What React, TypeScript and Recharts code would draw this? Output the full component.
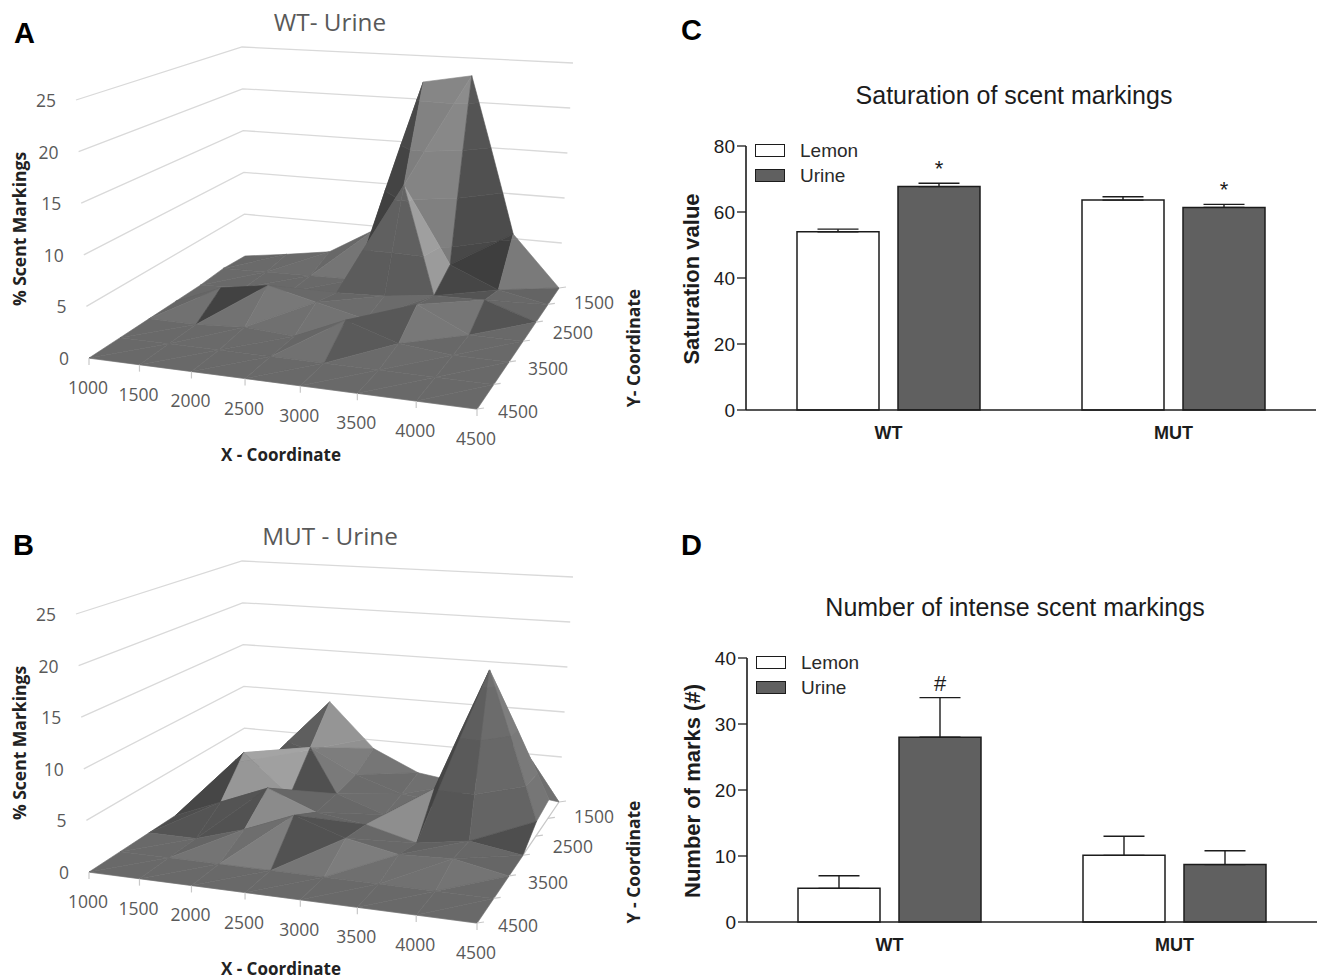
import React from 'react';
import {
  Bar, BarChart, ErrorBar, LabelList, Legend, Scatter, ScatterChart, XAxis, YAxis,
} from 'recharts';

// surface heights, one row per Y coordinate (1500 at the back to 4500 in front), one column per X coordinate
const xCoords = [1000, 1500, 2000, 2500, 3000, 3500, 4000, 4500];
const yCoords = [1500, 2000, 2500, 3000, 3500, 4000, 4500];
const zTicks = [0, 5, 10, 15, 20, 25];
const yTickLabels = [1500, 2500, 3500, 4500];

const wtUrine = [
  [0, 0.7, 1.5, 4.5, 22, 23, 5.5, 0],
  [0.2, 0.3, 0.4, 0.5, 11.5, 3.2, 1, 0],
  [0, 0.3, 0.4, 0.8, 1, 1.6, 1.7, 0],
  [0, 2, 2.8, 1.6, 0.4, 2.5, 0, 0],
  [0, 0, 0.3, 0, 2.2, 0.5, 0, 0],
  [0, 0, 0, 0, 0, 0, 0, 0],
  [0, 0, 0, 0, 0, 0, 0, 0],
];
const mutUrine = [
  [1.5, 3, 9, 4, 1.7, 1, 6, 0],
  [1, 3, 5.2, 2.6, 1, 0.5, 10.5, 2],
  [0, 5.7, 1.5, 2.2, 0.5, 3.8, 16.7, 1.5],
  [0, 2, 4, 2, 1.3, 0, 0.8, 0],
  [0, 0, 1.5, 3.5, 1.8, 0.8, 1, 0],
  [0, 0, 0, 0, 0, 0, 0, 0],
  [0, 0, 0, 0, 0, 0, 0, 0],
];

// cells split along the other diagonal, and face tones ("i,j,t": grey)
const wtFlip = ['4,1'];
const wtTones: Record<string, number> = {
  '4,0,0': 118, '4,0,1': 124, '5,0,0': 72, '5,0,1': 62, '3,0,0': 62, '3,0,1': 60,
  '4,1,0': 155, '4,1,1': 92, '3,1,0': 100, '3,1,1': 92, '5,1,0': 70, '5,1,1': 84,
  '6,0,0': 122, '6,0,1': 100,
  '1,3,0': 66, '6,2,0': 84, '4,4,0': 90, '4,3,1': 88,
};
const mutFlip = ['2,1'];
const mutTones: Record<string, number> = {
  '5,2,0': 66, '5,2,1': 86, '6,2,0': 100, '6,2,1': 78, '6,1,0': 140, '6,1,1': 118,
  '1,1,0': 155, '1,1,1': 160, '2,1,0': 122, '2,1,1': 80,
  '1,0,0': 80, '1,0,1': 90, '2,0,0': 145, '2,0,1': 125, '3,0,0': 118, '3,0,1': 108,
  '0,2,0': 78, '0,2,1': 70, '0,3,0': 78, '0,3,1': 84, '1,3,0': 84, '1,3,1': 82,
  '3,3,1': 82, '3,4,0': 82,
};

const groups = ['WT', 'MUT'];
const saturationLemon = [54, 63.6];
const saturationUrine = [67.7, 61.4];
const saturationLemonErr = [0.8, 1];
const saturationUrineErr = [1, 0.9];
const saturationMarks = ['*', '*'];
const intenseLemon = [5.1, 10.1];
const intenseUrine = [28, 8.7];
const intenseLemonErr = [1.9, 2.9];
const intenseUrineErr = [6, 2.1];
const intenseMarks = ['#', ''];

const GREY_TEXT = '#595959';
const CALIBRI = '"Open Sans", sans-serif';
const ARIAL = '"Liberation Sans", Arial, sans-serif';
const BAR_DARK = '#606060';
const INK = '#1c1c1c';

// corners of the box in panel pixels: left, back, right, near
const floorBox = [[89, 358], [245, 256], [559, 288], [477, 409]];
const topBox = [[76, 100], [242, 47], [573, 63], [480, 119]];
const depth = [0.0962, 0.1198, 0.1099, 0.0863];

function project(i: number, j: number, z: number) {
  const u = i / 7;
  const v = j / 6;
  const b = [(1 - u) * v, (1 - u) * (1 - v), u * (1 - v), u * v].map((k, n) => k * depth[n]);
  const sum = b[0] + b[1] + b[2] + b[3];
  const at = (box: number[][], axis: number) => b.reduce((s, k, n) => s + k * box[n][axis], 0) / sum;
  const t = z / 25;
  return {
    px: at(floorBox, 0) + (at(topBox, 0) - at(floorBox, 0)) * t,
    py: at(floorBox, 1) + (at(topBox, 1) - at(floorBox, 1)) * t,
  };
}

type V = [number, number, number];

function clip(poly: V[], level: number, keepAbove: boolean) {
  const out: V[] = [];
  poly.forEach((a, n) => {
    const b = poly[(n + 1) % poly.length];
    const aIn = keepAbove ? a[2] >= level : a[2] <= level;
    const bIn = keepAbove ? b[2] >= level : b[2] <= level;
    if (aIn) out.push(a);
    if (aIn !== bIn) {
      const t = (level - a[2]) / (b[2] - a[2]);
      out.push([a[0] + (b[0] - a[0]) * t, a[1] + (b[1] - a[1]) * t, level]);
    }
  });
  return out;
}

const bandTint = [0, 4, 8, 12, 16];

function triangleShade(tri: V[]) {
  const [a, b, c] = tri;
  const d1 = [b[0] - a[0], b[1] - a[1], (b[2] - a[2]) * 0.15];
  const d2 = [c[0] - a[0], c[1] - a[1], (c[2] - a[2]) * 0.15];
  const nx = d1[1] * d2[2] - d1[2] * d2[1];
  const ny = d1[2] * d2[0] - d1[0] * d2[2];
  const nz = d1[0] * d2[1] - d1[1] * d2[0];
  const len = Math.hypot(nx, ny, nz) * (nz < 0 ? -1 : 1);
  const ux = nx / len;
  const uy = ny / len;
  const uz = nz / len;
  const steep = (1 - uz) * (1 - uz);
  const backRight = Math.max(0, ux) * Math.max(0, -uy);
  const frontRight = Math.max(0, ux) * Math.max(0, uy) * uz;
  return 60 * uy - 240 * steep - 20 * Math.abs(ux) + 500 * backRight + 330 * frontRight;
}

function buildFacets(grid: number[][], flips: string[], tones: Record<string, number>, contrast: number) {
  const facets: { fill: string; count: number }[] = [];
  const verts: { px: number; py: number }[] = [];
  const addTri = (tri: V[], key: string) => {
    const shade = tones[key] ?? Math.max(66, 105 + contrast * triangleShade(tri));
    zTicks.slice(0, 5).forEach((lo, n) => {
      let poly = clip(tri, lo, true);
      if (poly.length) poly = clip(poly, lo + 5, false);
      if (poly.length < 3) return;
      const g = Math.round(Math.min(175, shade + bandTint[n]));
      facets.push({ fill: `rgb(${g},${g},${g})`, count: poly.length });
      poly.forEach((p) => verts.push(project(p[0], p[1], p[2])));
    });
  };
  for (let sum = 0; sum <= 11; sum++) {
    for (let j = 0; j < 6; j++) {
      const i = sum - j;
      if (i < 0 || i > 6) continue;
      const p00: V = [i, j, grid[j][i]];
      const p10: V = [i + 1, j, grid[j][i + 1]];
      const p01: V = [i, j + 1, grid[j + 1][i]];
      const p11: V = [i + 1, j + 1, grid[j + 1][i + 1]];
      if (flips.includes(`${i},${j}`)) {
        addTri([p00, p10, p11], `${i},${j},0`);
        addTri([p00, p11, p01], `${i},${j},1`);
      } else {
        addTri([p00, p10, p01], `${i},${j},0`);
        addTri([p10, p11, p01], `${i},${j},1`);
      }
    }
  }
  return { facets, verts };
}

const noDot = () => <g />;

function SurfacePanel({ grid, flips, tones, contrast, top, title, yTitle }: { grid: number[][]; flips: string[]; tones: Record<string, number>; contrast: number; top: number; title: string; yTitle: string }) {
  const { facets, verts } = buildFacets(grid, flips, tones, contrast);
  const drawFacets = (props: any) => {
    let at = 0;
    return (
      <g>
        {facets.map((f, n) => {
          const pts = props.points.slice(at, at + f.count);
          at += f.count;
          return (
            <polygon
              key={n}
              points={pts.map((p: any) => `${p.x},${p.y}`).join(' ')}
              fill={f.fill}
              stroke={f.fill}
              strokeWidth={0.6}
            />
          );
        })}
      </g>
    );
  };
  const zLabels = zTicks.map((z) => ({ ...project(0, 6, z), label: z }));
  const xLabels = xCoords.map((x, i) => ({ ...project(i, 6, 0), label: x }));
  const yLabels = yTickLabels.map((y, n) => ({ ...project(7, yCoords.indexOf(y), 0), label: y, n }));
  const yMarks = yCoords.map((y, j) => project(7, j, 0));
  const text = { fontFamily: CALIBRI, fontSize: 17.5, fill: GREY_TEXT };
  const sideLabel = { position: 'absolute', width: 0, height: 0, whiteSpace: 'nowrap', fontFamily: CALIBRI, fontWeight: 700, fontSize: 17.5, color: '#222' } as const;
  return (
    <div style={{ position: 'absolute', left: 0, top, width: 650, height: 465 }}>
      <ScatterChart width={650} height={465} margin={{ top: 0, right: 0, bottom: 0, left: 0 }}>
        <XAxis type="number" dataKey="px" domain={[0, 650]} hide />
        <YAxis type="number" dataKey="py" domain={[0, 465]} reversed hide />
        {zTicks.slice(1).map((z) => (
          <Scatter
            key={z}
            data={[project(0, 6, z), project(0, 0, z), project(7, 0, z)]}
            line={{ stroke: '#d9d9d9', strokeWidth: 1.3 }}
            shape={noDot}
            isAnimationActive={false}
          />
        ))}
        <Scatter
          data={[project(0, 6, 0), project(7, 6, 0), project(7, 0, 0)]}
          line={{ stroke: '#c8c8c8', strokeWidth: 1.3 }}
          shape={noDot}
          isAnimationActive={false}
        />
        <Scatter data={verts} line={drawFacets} shape={noDot} isAnimationActive={false} />
        <Scatter
          data={zLabels}
          isAnimationActive={false}
          shape={(p: any) => (
            <text x={p.cx - 20} y={p.cy + 7} textAnchor="end" {...text}>{p.payload.label}</text>
          )}
        />
        <Scatter
          data={xLabels}
          isAnimationActive={false}
          shape={(p: any) => (
            <g>
              <line x1={p.cx} y1={p.cy} x2={p.cx} y2={p.cy + 7} stroke="#c8c8c8" strokeWidth={1.2} />
              <text x={p.cx - 1} y={p.cy + 36} textAnchor="middle" {...text}>{p.payload.label}</text>
            </g>
          )}
        />
        <Scatter
          data={yMarks}
          isAnimationActive={false}
          shape={(p: any) => <line x1={p.cx} y1={p.cy} x2={p.cx + 7} y2={p.cy - 1} stroke="#c8c8c8" strokeWidth={1.2} />}
        />
        <Scatter
          data={yLabels}
          isAnimationActive={false}
          shape={(p: any) => (
            <text x={p.cx + 35 + p.payload.n * 2} y={p.cy + 21 - p.payload.n * 4} textAnchor="middle" {...text}>
              {p.payload.label}
            </text>
          )}
        />
      </ScatterChart>
      <div style={{ position: 'absolute', left: 130, width: 400, top: 4, textAlign: 'center', fontFamily: CALIBRI, fontSize: 24.3, lineHeight: '36px', color: GREY_TEXT }}>{title}</div>
      <div style={{ position: 'absolute', left: 131, width: 300, top: 443, textAlign: 'center', fontFamily: CALIBRI, fontWeight: 700, fontSize: 17, lineHeight: '24px', color: '#222' }}>X - Coordinate</div>
      <div style={{ ...sideLabel, left: 19, top: 229 }}>
        <span style={{ position: 'absolute', transform: 'translate(-50%,-50%) rotate(-90deg)' }}>% Scent Markings</span>
      </div>
      <div style={{ ...sideLabel, left: 633, top: 348 }}>
        <span style={{ position: 'absolute', transform: 'translate(-50%,-50%) rotate(-90deg)' }}>{yTitle}</span>
      </div>
    </div>
  );
}

function BarPanel({ top, left, title, yLabel, ymax, ticks, lemon, urine, lemonErr, urineErr, marks }: any) {
  const data = groups.map((group, n) => ({
    group,
    lemon: lemon[n],
    urine: urine[n],
    lemonBar: [0, lemonErr[n]],
    urineBar: [0, urineErr[n]],
    err: urineErr[n],
    mark: marks[n],
  }));
  const drawMark = (p: any) => {
    const row = data[p.index];
    if (!row.mark) return null;
    const lift = (row.err / row.urine) * p.height;
    return (
      <text x={p.x + p.width / 2} y={p.y - lift - 7} textAnchor="middle" fontFamily={ARIAL} fontSize={22} fill={INK}>
        {row.mark}
      </text>
    );
  };
  const legend = () => (
    <div style={{ fontFamily: ARIAL, fontSize: 19, color: '#2a2a2a' }}>
      {[['Lemon', '#fff'], ['Urine', BAR_DARK]].map(([name, fill]) => (
        <div key={name} style={{ display: 'flex', alignItems: 'center', height: 25 }}>
          <span style={{ boxSizing: 'border-box', display: 'inline-block', width: 30, height: 13, background: fill, border: `1.5px solid ${INK}`, marginRight: 15 }} />
          {name}
        </div>
      ))}
    </div>
  );
  return (
    <div style={{ position: 'absolute', left, top, width: 648, height: 330 }}>
      <BarChart width={648} height={330} data={data} barSize={82} barGap={19} margin={{ top: 16, right: 2, bottom: 0, left: 0 }}>
        <XAxis
          dataKey="group"
          height={50}
          tickLine={false}
          axisLine={{ stroke: INK, strokeWidth: 1.6 }}
          tick={{ fontFamily: ARIAL, fontWeight: 700, fontSize: 18, fill: INK }}
          tickMargin={10}
        />
        <YAxis
          type="number"
          domain={[0, ymax]}
          ticks={ticks}
          width={76}
          tickSize={9}
          tickLine={{ stroke: INK, strokeWidth: 1.3 }}
          axisLine={{ stroke: INK, strokeWidth: 1.6 }}
          tick={{ fontFamily: ARIAL, fontSize: 19, fill: INK }}
          tickMargin={2}
        />
        <Legend layout="vertical" align="center" verticalAlign="middle" content={legend} wrapperStyle={{ left: 85, top: 8, width: 140 }} />
        <Bar dataKey="lemon" fill="#fff" stroke={INK} strokeWidth={1.5} isAnimationActive={false}>
          <ErrorBar dataKey="lemonBar" direction="y" width={20.5} stroke={INK} strokeWidth={1.4} isAnimationActive={false} />
        </Bar>
        <Bar dataKey="urine" fill={BAR_DARK} stroke={INK} strokeWidth={1.5} isAnimationActive={false}>
          <ErrorBar dataKey="urineBar" direction="y" width={20.5} stroke={INK} strokeWidth={1.4} isAnimationActive={false} />
          <LabelList dataKey="urine" content={drawMark} />
        </Bar>
      </BarChart>
      <div style={{ position: 'absolute', left: 22, top: 149, width: 0, height: 0, whiteSpace: 'nowrap', fontFamily: ARIAL, fontWeight: 700, fontSize: 22, color: INK }}>
        <span style={{ position: 'absolute', transform: 'translate(-50%,-50%) rotate(-90deg)' }}>{yLabel}</span>
      </div>
      <div style={{ position: 'absolute', left: 144, width: 400, top: -50, textAlign: 'center', fontFamily: ARIAL, fontSize: 25, lineHeight: '30px', color: INK, whiteSpace: 'nowrap' }}>{title}</div>
    </div>
  );
}

const panelLetters = [['A', 14, 15], ['B', 13, 527], ['C', 681, 12], ['D', 681, 527]];

export default function App() {
  return (
    <div style={{ position: 'absolute', left: 0, top: 0, width: 1318, height: 979, background: '#fff', overflow: 'hidden' }}>
      <SurfacePanel grid={wtUrine} flips={wtFlip} tones={wtTones} contrast={0.45} top={0} title="WT- Urine" yTitle="Y- Coordinate" />
      <SurfacePanel grid={mutUrine} flips={mutFlip} tones={mutTones} contrast={0.85} top={514} title="MUT - Urine" yTitle="Y - Coordinate" />
      <BarPanel
        top={130} left={670} title="Saturation of scent markings" yLabel="Saturation value"
        ymax={80} ticks={[0, 20, 40, 60, 80]}
        lemon={saturationLemon} urine={saturationUrine} lemonErr={saturationLemonErr} urineErr={saturationUrineErr} marks={saturationMarks}
      />
      <BarPanel
        top={642} left={671} title="Number of intense scent markings" yLabel="Number of marks (#)"
        ymax={40} ticks={[0, 10, 20, 30, 40]}
        lemon={intenseLemon} urine={intenseUrine} lemonErr={intenseLemonErr} urineErr={intenseUrineErr} marks={intenseMarks}
      />
      {panelLetters.map(([letter, left, top]) => (
        <div key={letter as string} style={{ position: 'absolute', left: left as number, top: top as number, fontFamily: ARIAL, fontWeight: 700, fontSize: 29, lineHeight: '36px', color: '#000' }}>{letter}</div>
      ))}
    </div>
  );
}
